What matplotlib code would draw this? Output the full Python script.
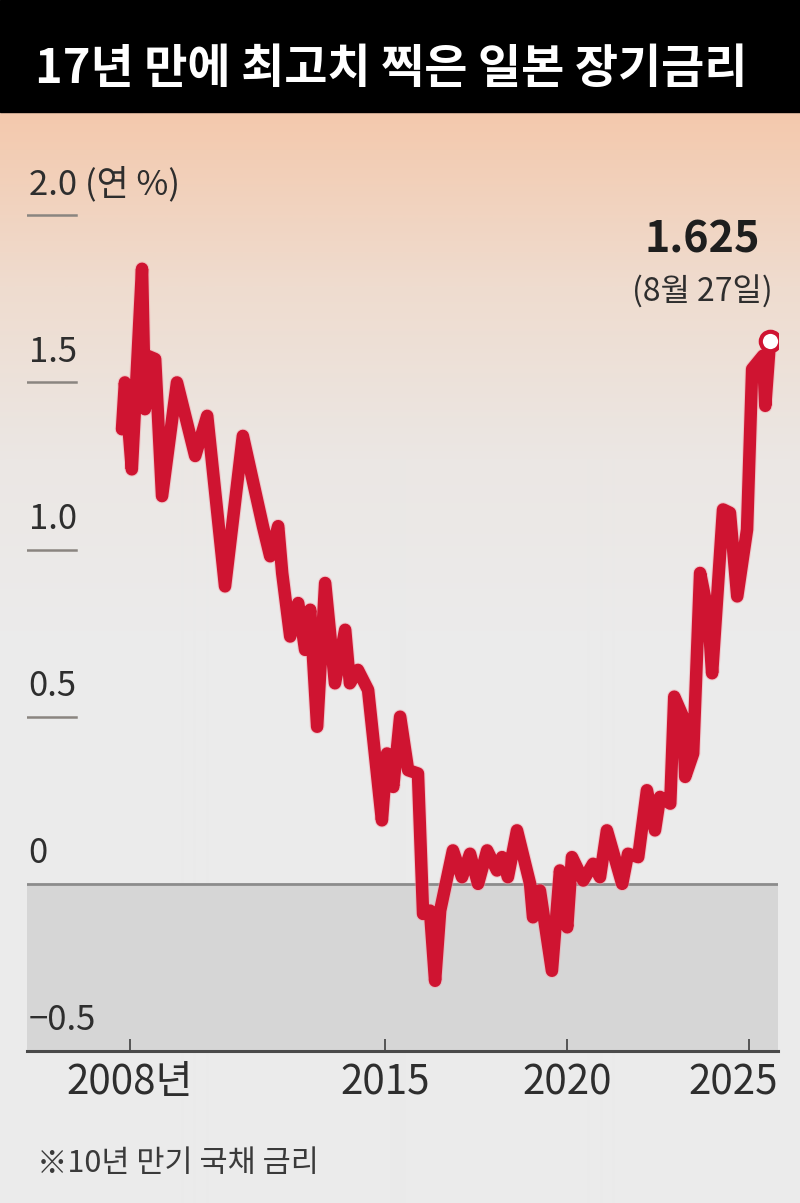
import numpy as np
import matplotlib
matplotlib.use("Agg")
from matplotlib import pyplot as plt
from matplotlib.colors import LinearSegmentedColormap
from matplotlib.transforms import ScaledTranslation

plt.rcParams['font.family'] = ['Noto Sans CJK KR', 'DejaVu Sans']

# 일본 10년 만기 국채 금리 (연 %), 그림에서 읽은 값
years = [2007.78, 2007.86, 2008.05, 2008.33, 2008.41, 2008.47, 2008.69, 2008.88,
         2009.29, 2009.79, 2010.12, 2010.61, 2011.10, 2011.65, 2011.85, 2012.07,
         2012.18, 2012.40, 2012.62, 2012.81, 2012.95, 2013.14, 2013.36, 2013.63,
         2013.91, 2014.04, 2014.26, 2014.54, 2014.92, 2015.06, 2015.23, 2015.42,
         2015.64, 2015.91, 2016.05, 2016.24, 2016.38, 2016.52, 2016.87, 2017.12,
         2017.34, 2017.56, 2017.81, 2018.08, 2018.22, 2018.38, 2018.63, 2018.99,
         2019.07, 2019.26, 2019.59, 2019.81, 2020.01, 2020.14, 2020.45, 2020.72,
         2020.91, 2021.10, 2021.52, 2021.68, 2021.96, 2022.20, 2022.42, 2022.56,
         2022.84, 2022.95, 2023.19, 2023.25, 2023.47, 2023.66, 2023.88, 2023.99,
         2024.29, 2024.48, 2024.68, 2024.95, 2025.09, 2025.39, 2025.45, 2025.58]
rates = [1.36, 1.50, 1.24, 1.84, 1.42, 1.58, 1.57, 1.16,
         1.50, 1.28, 1.40, 0.89, 1.34, 1.07, 0.98, 1.07,
         0.93, 0.74, 0.84, 0.70, 0.82, 0.47, 0.90, 0.60,
         0.76, 0.60, 0.64, 0.58, 0.19, 0.39, 0.29, 0.50,
         0.34, 0.33, -0.09, -0.08, -0.29, -0.08, 0.10, 0.02,
         0.09, 0.00, 0.10, 0.04, 0.08, 0.02, 0.16, 0.00,
         -0.10, -0.02, -0.26, 0.04, -0.13, 0.08, 0.01, 0.06,
         0.02, 0.16, 0.00, 0.09, 0.08, 0.28, 0.16, 0.26,
         0.24, 0.56, 0.50, 0.32, 0.39, 0.93, 0.81, 0.63,
         1.12, 1.11, 0.86, 1.06, 1.54, 1.58, 1.43, 1.625]

ytick_vals = [2.0, 1.5, 1.0, 0.5, 0, -0.5]
ytick_txt = ['2.0 (연 %)', '1.5', '1.0', '0.5', '0', '−0.5']
xtick_vals = [2008, 2015, 2020, 2025]
xtick_txt = ['2008년', '2015', '2020', '2025']

title = '17년 만에 최고치 찍은 일본 장기금리'
last_label = '1.625'
last_date = '(8월 27일)'
note = '※10년 만기 국채 금리'

W, H = 800, 1203
fig = plt.figure(figsize=(W / 100, H / 100), dpi=100)

# 배경: 위쪽 살구색 -> 아래 회색
bg = fig.add_axes([0, 0, 1, 1], zorder=0)
bg.set_xlim(0, W)
bg.set_ylim(H, 0)
bg.axis('off')
cmap = LinearSegmentedColormap.from_list('bg', ['#f4c9ad', '#efdccf', '#ebe7e4', '#ebebeb'])
grad = np.clip((np.arange(113, H) - 113) / 520.0, 0, 1).reshape(-1, 1)
bg.imshow(grad, cmap=cmap, aspect='auto', extent=[0, W, H, 113], interpolation='bilinear')
bg.add_patch(plt.Rectangle((0, 0), W, 112, color='black', zorder=2))
bg.text(35, 83, title, color='white', fontsize=33.8, fontweight='bold', va='baseline', ha='left')

# 본 차트
ax = fig.add_axes([27 / W, 1 - 1051 / H, 751 / W, (1051 - 115) / H], zorder=1)
ax.patch.set_alpha(0)
ax.set_xlim(2005.17, 2025.80)
ax.set_ylim(-0.5, 2.30)

ax.axhspan(-0.5, 0, color='#d6d6d6', zorder=1)
ax.axhline(0, color='#8c8c8c', lw=2, zorder=2)
for v, t in zip(ytick_vals, ytick_txt):
    if v > 0:
        ax.plot([0, 0.065], [v, v], transform=ax.get_yaxis_transform(),
                color='#8a8580', lw=1.8, zorder=2)
    ax.annotate(t, xy=(0.002, v), xycoords=('axes fraction', 'data'),
                xytext=(0, 15), textcoords='offset points',
                fontsize=25, color='#2e2e2e', va='baseline', ha='left')

ax.plot(years, rates, color='#f3a0aa', lw=10.5, alpha=0.45, solid_joinstyle='round',
        solid_capstyle='round', zorder=3)
ax.plot(years, rates, color='#cf1431', lw=9, solid_joinstyle='round',
        solid_capstyle='round', zorder=4)
ax.plot(years[-1], rates[-1], 'o', ms=14, mfc='white', mec='#cf1431', mew=3, zorder=5)

for s in ['top', 'right', 'left']:
    ax.spines[s].set_visible(False)
ax.spines['bottom'].set_color('#4a4a4a')
ax.spines['bottom'].set_linewidth(2.2)
ax.set_yticks([])
ax.set_xticks(xtick_vals)
ax.set_xticklabels(xtick_txt)
ax.tick_params(axis='x', direction='in', length=9, width=1.4, color='#555555',
               pad=8, labelsize=29, labelcolor='#2e2e2e')
# 마지막 라벨은 오른쪽 끝에 맞춰 왼쪽으로 조금 이동
lbl = ax.get_xticklabels()[-1]
lbl.set_transform(lbl.get_transform() + ScaledTranslation(-0.16, 0, fig.dpi_scale_trans))

fig.text(702 / W, 1 - 252 / H, last_label, fontsize=31, fontweight='bold',
         color='#1e1e1e', ha='center', va='baseline')
fig.text(702 / W, 1 - 302 / H, last_date, fontsize=23, color='#2e2e2e',
         ha='center', va='baseline')
fig.text(37 / W, 1 - 1172 / H, note, fontsize=22, color='#3a3a3a',
         ha='left', va='baseline')

fig.savefig('out.png', dpi=100)
